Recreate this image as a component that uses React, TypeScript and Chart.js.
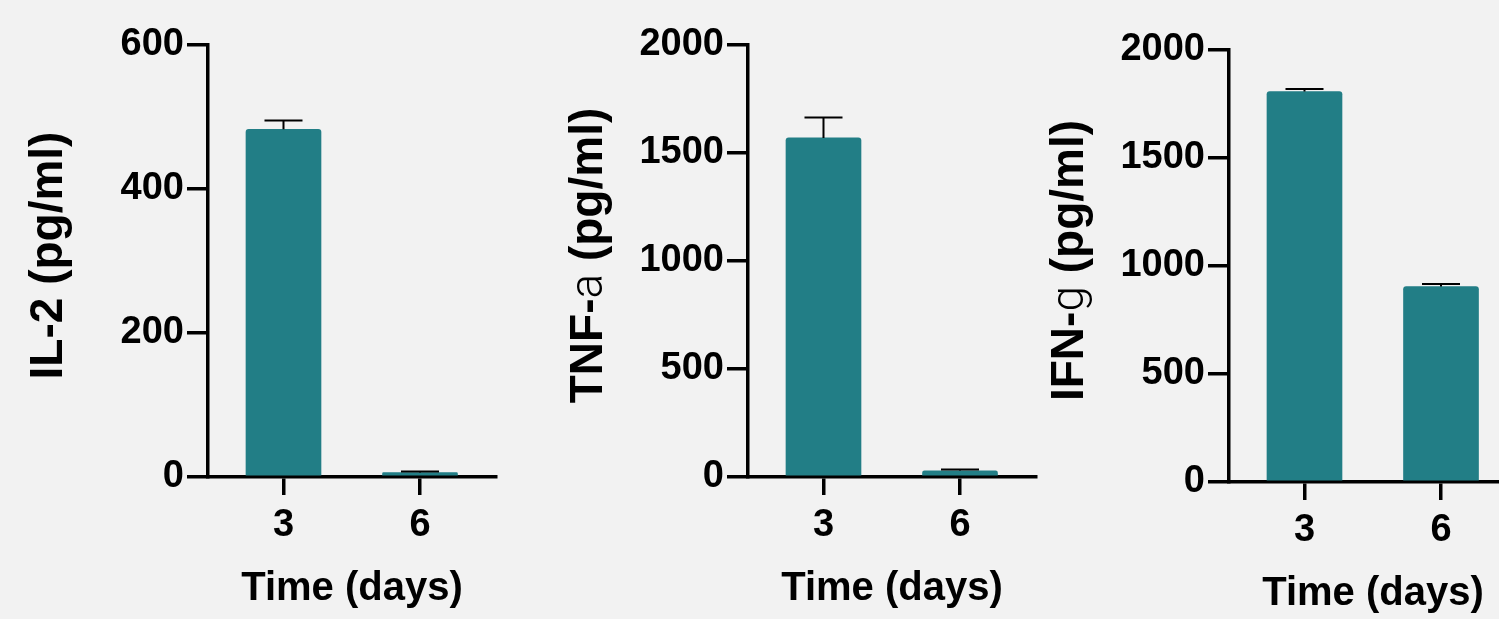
import React, { useEffect, useRef } from "react";
import { Chart, registerables } from "chart.js";

Chart.register(...registerables);

// ---- data ----
const days = [3, 6];
const dayLabels = ["3", "6"];

const il2Mean = [483, 6];
const il2Sem = [12, 1.5];

const tnfMean = [1570, 29];
const tnfSem = [94, 6];

const ifnMean = [1808, 905];
const ifnSem = [12, 12];

const il2Ticks = [0, 200, 400, 600];
const cytokineTicks = [0, 500, 1000, 1500, 2000];

const xTitle = "Time (days)";
const il2Title = [{ text: "IL-2 (pg/ml)", light: false }];
const tnfTitle = [
  { text: "TNF-", light: false },
  { text: "a", light: true },
  { text: " (pg/ml)", light: false },
];
const ifnTitle = [
  { text: "IFN-", light: false },
  { text: "g", light: true },
  { text: " (pg/ml)", light: false },
];

// ---- styles ----
const BOLD_FAMILY = '"Liberation Sans", Arial, Helvetica, sans-serif';
const LIGHT_FAMILY = 'Roboto, "Open Sans", Lato, "DejaVu Sans", sans-serif';
const TEAL = "rgb(34, 126, 134)";
const BG = "#f2f2f2";

const errorBarPlugin = {
  id: "errorBars",
  afterDatasetsDraw(chart: any, _args: any, opts: any) {
    const meta = chart.getDatasetMeta(0);
    const yScale = chart.scales.y;
    const ctx = chart.ctx;
    ctx.save();
    ctx.strokeStyle = "#000";
    ctx.lineWidth = opts.lineWidth;
    meta.data.forEach((bar: any, i: number) => {
      const m = opts.means[i];
      const e = opts.errors[i];
      const yBar = yScale.getPixelForValue(m);
      const yTop = yScale.getPixelForValue(m + e);
      ctx.beginPath();
      ctx.moveTo(bar.x, yBar);
      ctx.lineTo(bar.x, yTop);
      ctx.moveTo(bar.x - opts.capHalf, yTop);
      ctx.lineTo(bar.x + opts.capHalf, yTop);
      ctx.stroke();
    });
    ctx.restore();
  },
};

const yTitlePlugin = {
  id: "yTitle",
  afterDraw(chart: any, _args: any, opts: any) {
    const { ctx, chartArea } = chart;
    const parts = opts.parts as { text: string; light: boolean }[];
    const fonts = parts.map((p) =>
      p.light
        ? `300 ${opts.size}px ${LIGHT_FAMILY}`
        : `bold ${opts.size}px ${BOLD_FAMILY}`
    );
    ctx.save();
    let total = 0;
    const widths = parts.map((p, i) => {
      ctx.font = fonts[i];
      const w = ctx.measureText(p.text).width;
      total += w;
      return w;
    });
    const cx = chartArea.left - opts.offsetX;
    const cy = (chartArea.top + chartArea.bottom) / 2 + opts.offsetY;
    ctx.translate(cx, cy);
    ctx.rotate(-Math.PI / 2);
    ctx.fillStyle = "#000";
    ctx.textBaseline = "alphabetic";
    ctx.textAlign = "left";
    let x = -total / 2;
    parts.forEach((p, i) => {
      ctx.font = fonts[i];
      ctx.fillText(p.text, x, 0);
      x += widths[i];
    });
    ctx.restore();
  },
};

function makeConfig(
  means: number[],
  sems: number[],
  yTicks: number[],
  titleParts: { text: string; light: boolean }[]
): any {
  const tickFont = { family: BOLD_FAMILY, size: 38, weight: "bold" as const };
  return {
    type: "bar",
    data: {
      datasets: [
        {
          data: days.map((d, i) => ({ x: d, y: means[i] })),
          backgroundColor: TEAL,
          barThickness: 75,
          borderRadius: 3,
          borderSkipped: "start",
        },
      ],
    },
    plugins: [errorBarPlugin, yTitlePlugin],
    options: {
      animation: false,
      responsive: false,
      devicePixelRatio: 1,
      layout: { padding: { left: 0, right: 24, top: 45, bottom: 0 } },
      plugins: {
        legend: { display: false },
        tooltip: { enabled: false },
        errorBars: { means, errors: sems, lineWidth: 2, capHalf: 19 },
        yTitle: { parts: titleParts, size: 46, offsetX: 146, offsetY: -5.5 },
      },
      scales: {
        x: {
          type: "linear",
          min: 1.341,
          max: 7.67,
          offset: false,
          z: 1,
          afterBuildTicks: (s: any) => {
            s.ticks = days.map((v) => ({ value: v }));
          },
          afterFit: (s: any) => {
            s.height = 142;
          },
          grid: {
            offset: false,
            drawOnChartArea: false,
            drawTicks: true,
            tickLength: 18,
            lineWidth: 3.5,
            color: "#000",
          },
          border: { display: true, color: "#000", width: 3.5 },
          ticks: {
            color: "#000",
            font: tickFont,
            padding: 8,
            maxRotation: 0,
            autoSkip: false,
            callback: (v: number) => dayLabels[days.indexOf(v)] ?? "",
          },
          title: {
            display: true,
            text: xTitle,
            color: "#000",
            font: { family: BOLD_FAMILY, size: 40, weight: "bold" },
            padding: { top: 0, bottom: 6 },
          },
        },
        y: {
          min: yTicks[0],
          max: yTicks[yTicks.length - 1],
          z: 1,
          afterBuildTicks: (s: any) => {
            s.ticks = yTicks.map((v) => ({ value: v }));
          },
          afterFit: (s: any) => {
            s.width = 208;
          },
          grid: {
            drawOnChartArea: false,
            drawTicks: true,
            tickLength: 21,
            lineWidth: 3.5,
            color: "#000",
          },
          border: { display: true, color: "#000", width: 3.5 },
          ticks: {
            color: "#000",
            font: tickFont,
            padding: 3,
            autoSkip: false,
            callback: (v: number) => String(v),
          },
        },
      },
    },
  };
}

function Panel(props: {
  left: number;
  top: number;
  means: number[];
  sems: number[];
  yTicks: number[];
  title: { text: string; light: boolean }[];
}) {
  const ref = useRef<HTMLCanvasElement>(null);
  useEffect(() => {
    if (!ref.current) return;
    const chart = new Chart(
      ref.current,
      makeConfig(props.means, props.sems, props.yTicks, props.title)
    );
    return () => chart.destroy();
  }, []);
  return (
    <canvas
      ref={ref}
      width={520}
      height={619}
      style={{
        position: "absolute",
        left: props.left,
        top: props.top,
        width: 520,
        height: 619,
      }}
    />
  );
}

export default function App() {
  return (
    <div
      style={{
        position: "fixed",
        left: 0,
        top: 0,
        width: 1499,
        height: 619,
        overflow: "hidden",
        background: BG,
      }}
    >
      <Panel left={0} top={0} means={il2Mean} sems={il2Sem} yTicks={il2Ticks} title={il2Title} />
      <Panel left={540} top={0} means={tnfMean} sems={tnfSem} yTicks={cytokineTicks} title={tnfTitle} />
      <Panel left={1021} top={5} means={ifnMean} sems={ifnSem} yTicks={cytokineTicks} title={ifnTitle} />
    </div>
  );
}
